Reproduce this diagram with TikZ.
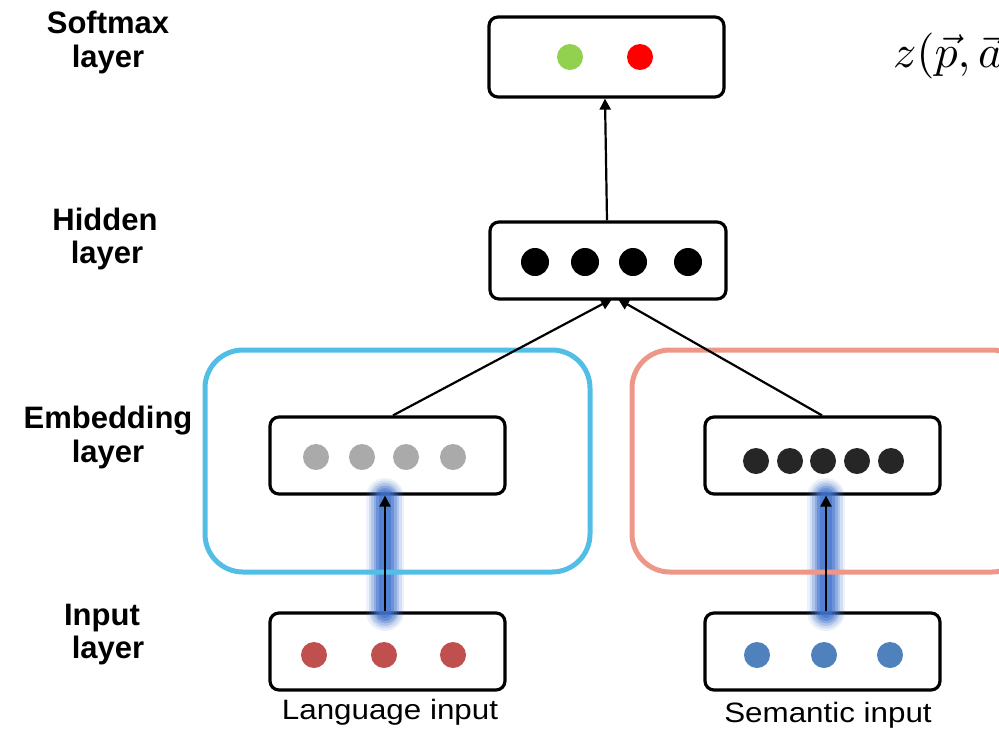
\documentclass[tikz,border=0pt]{standalone}
\usepackage{fontspec}
\setmainfont{Liberation Sans}
\usetikzlibrary{arrows.meta}
\definecolor{cyanbox}{RGB}{82,190,230}
\definecolor{salmonbox}{RGB}{238,150,135}
\definecolor{glowblue}{RGB}{65,115,205}
\definecolor{dotgray}{RGB}{170,170,170}
\definecolor{dotdark}{RGB}{38,38,38}
\definecolor{dotred}{RGB}{192,80,77}
\definecolor{dotblue}{RGB}{79,129,189}
\definecolor{dotgreen}{RGB}{146,208,80}
\tikzset{
  layerbox/.style={draw=black, line width=3.2pt, rounded corners=9pt, fill=white},
  groupbox/.style={line width=5pt, rounded corners=38pt},
  dot/.style={circle, inner sep=0pt, minimum size=26pt},
  lbl/.style={font=\bfseries\fontsize{31}{34}\selectfont, anchor=base, inner sep=0pt},
  captext/.style={font=\fontsize{28}{30}\selectfont, anchor=base, inner sep=0pt},
  conn/.style={line width=2.2pt, -{Triangle[length=11pt,width=11pt]}},
}
\begin{document}
\begin{tikzpicture}[x=1pt,y=-1pt]
\useasboundingbox (0,0) rectangle (999,729);
\clip (0,0) rectangle (999,729);
% layer boxes
\node[layerbox, minimum width=235pt, minimum height=80pt] (soft) at (606.5,57) {};
\node[layerbox, minimum width=236pt, minimum height=77pt] (hid) at (608,260.5) {};
\node[layerbox, minimum width=235pt, minimum height=77pt] (embL) at (387.5,455.5) {};
\node[layerbox, minimum width=235pt, minimum height=77pt] (embR) at (822.5,455.5) {};
\node[layerbox, minimum width=235pt, minimum height=77pt] (inL) at (387.5,651.5) {};
\node[layerbox, minimum width=235pt, minimum height=77pt] (inR) at (822.5,651.5) {};
% dots
\node[dot, fill=dotgreen] (s1) at (570,57) {};
\node[dot, fill=red] (s2) at (640,57) {};
\foreach \x [count=\i] in {535,585,633,688} \node[dot, fill=black, minimum size=28pt] (h\i) at (\x,262) {};
\foreach \x [count=\i] in {316,362,406,453} \node[dot, fill=dotgray] (el\i) at (\x,457) {};
\foreach \x [count=\i] in {756,790,823,857,891} \node[dot, fill=dotdark] (er\i) at (\x,461) {};
\foreach \x [count=\i] in {314,384,453} \node[dot, fill=dotred] (il\i) at (\x,655) {};
\foreach \x [count=\i] in {757,824,890} \node[dot, fill=dotblue] (ir\i) at (\x,655) {};
% glow
\foreach \w/\o in {38/0.1,33/0.15,28/0.22,23/0.32,18/0.45,12/0.6} {
  \draw[glowblue, line width=\w pt, opacity=\o, line cap=round] (385,612) -- (385,497);
  \draw[glowblue, line width=\w pt, opacity=\o, line cap=round] (826,612) -- (826,497);
}
% group boxes
\draw[groupbox, cyanbox] (205,350) rectangle (590,572);
\draw[groupbox, salmonbox] (632,350) rectangle (1030,572);
% connectors
\coordinate (hL) at (612,299);
\coordinate (hR) at (618,299);
\draw[conn] (hid.north -| 607,0) -- (soft.south -| 605,0);
\draw[conn] (embL.north -| 393,0) -- (hL);
\draw[conn] (embR.north -| 822,0) -- (hR);
\draw[conn] (inL.north -| 385,0) -- (embL.south -| 385,0);
\draw[conn] (inR.north -| 826,0) -- (embR.south -| 826,0);
% labels
\node[lbl] (lsoft1) at (108,33) {Softmax};
\node[lbl] (lsoft2) at (108,67) {layer};
\node[lbl] (lhid1) at (105,230) {Hidden};
\node[lbl] (lhid2) at (107,263) {layer};
\node[lbl] (lemb1) at (108,428) {Embedding};
\node[lbl] (lemb2) at (108,462) {layer};
\node[lbl] (lin1) at (102,625) {Input};
\node[lbl] (lin2) at (108,658) {layer};
\node[captext] (cL) at (390,719) {\scalebox{1.12}[1]{Language input}};
\node[captext] (cR) at (828,722) {\scalebox{1.12}[1]{Semantic input}};
\node[anchor=base west, inner sep=0pt] (eq) at (893,67) {\scalebox{4.6}{$z(\vec{p},\vec{a}$}};
\end{tikzpicture}
\end{document}
